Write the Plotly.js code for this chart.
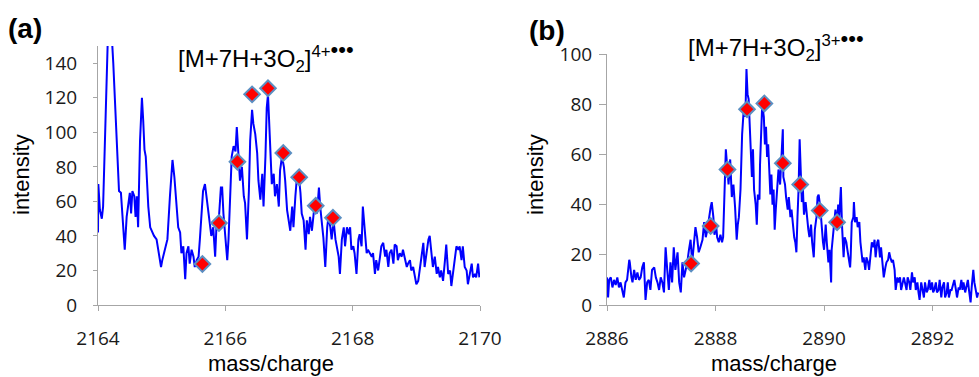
<!DOCTYPE html>
<html>
<head>
<meta charset="utf-8">
<script src="https://cdn.plot.ly/plotly-3.0.1.min.js"></script>
<style>html,body{margin:0;padding:0;background:#fff;}#chart{width:979px;height:377px;}</style>
</head>
<body>
<div id="chart"></div>
<script>
// ---- Panel (a): [M+7H+3O2]4+ ----
const leftMz = [2164.00,2164.005,2164.03,2164.06,2164.08,2164.11,2164.14,2164.16,2164.19,2164.21,2164.24,2164.26,2164.28,2164.31,2164.33,2164.36,2164.38,2164.42,2164.45,2164.48,2164.50,2164.52,2164.54,2164.57,2164.59,2164.61,2164.63,2164.66,2164.69,2164.71,2164.73,2164.75,2164.77,2164.79,2164.82,2164.85,2164.88,2164.92,2164.95,2164.99,2165.01,2165.04,2165.07,2165.09,2165.13,2165.16,2165.17,2165.20,2165.22,2165.24,2165.26,2165.29,2165.31,2165.34,2165.37,2165.39,2165.42,2165.44,2165.47,2165.50,2165.52,2165.55,2165.58,2165.60,2165.63,2165.65,2165.68,2165.71,2165.73,2165.76,2165.78,2165.81,2165.84,2165.86,2165.90,2165.93,
2165.95,2165.97,2166.00,2166.03,2166.05,2166.08,2166.10,2166.13,2166.16,2166.18,2166.21,2166.23,2166.26,2166.29,2166.31,2166.34,2166.37,2166.39,2166.42,2166.44,2166.47,2166.50,2166.52,2166.55,2166.58,2166.60,2166.63,2166.65,2166.67,2166.69,2166.71,2166.73,2166.76,2166.78,2166.81,2166.84,2166.86,2166.89,2166.92,2166.94,2166.97,2166.99,2167.02,2167.05,2167.07,2167.10,2167.12,2167.15,2167.18,2167.20,2167.23,2167.26,2167.28,2167.31,2167.33,2167.36,2167.39,2167.41,2167.44,2167.47,2167.49,2167.52,2167.54,2167.57,2167.60,2167.62,2167.65,2167.67,2167.70,2167.73,2167.75,2167.78,2167.80,2167.83,2167.86,2167.88,2167.91,2167.94,2167.96,
2167.98,2168.01,2168.03,2168.06,2168.09,2168.11,2168.14,2168.16,2168.18,2168.20,2168.22,2168.24,2168.27,2168.30,2168.32,2168.35,2168.37,2168.40,2168.43,2168.45,2168.48,2168.51,2168.53,2168.56,2168.58,2168.61,2168.64,2168.66,2168.69,2168.71,2168.74,2168.77,2168.79,2168.82,2168.85,2168.87,2168.90,2168.92,2168.95,2168.98,2169.00,2169.03,2169.05,2169.08,2169.11,2169.13,2169.16,2169.19,2169.21,2169.24,2169.26,2169.29,2169.32,2169.34,2169.37,2169.39,2169.42,2169.45,2169.47,2169.50,2169.53,2169.55,2169.58,2169.60,2169.63,2169.66,2169.68,2169.71,2169.73,2169.76,2169.79,2169.81,2169.84,2169.87,2169.89,2169.92,2169.94,2169.97,2169.99];
const leftIntensity = [42,70,55,50,57,92,140,162,168,160,140,124,105,80,66,65,53,32,51,59,65,53,66,63,51,63,45,95,120,107,90,86,68,57,45,42,40,38,32,22,26,30,34,38,63,80,84,74,63,53,45,42,30,34,15,30,34,24,32,28,22,26,28,38,53,66,70,61,53,47,40,45,28,45,51,68,
68,53,41,26,38,72,86,92,89,103,86,72,80,63,59,38,66,95,113,105,99,88,72,61,76,57,86,114,122,105,80,70,76,63,70,57,78,86,80,72,55,49,43,57,45,63,72,76,65,53,49,32,49,41,51,43,57,61,53,68,57,45,39,22,45,51,45,38,49,38,34,28,18,38,45,34,45,41,45,
32,34,30,18,38,41,34,57,49,38,30,32,30,28,30,18,26,20,28,34,36,28,32,22,30,32,24,35,34,26,30,28,32,26,22,24,26,20,22,16,12,14,20,26,36,22,30,38,40,30,22,28,18,22,16,20,14,26,35,18,20,11,20,26,34,32,34,26,34,22,20,12,18,24,16,18,16,24,16];
const leftMarkerMz = [2165.64,2165.90,2166.19,2166.42,2166.67,2166.91,2167.16,2167.42,2167.69];
const leftMarkerIntensity = [23.7,47.5,83,122,125.5,88,74,57.5,50.5];
const leftXTicks = [2164,2166,2168,2170];
const leftYTicks = [0,20,40,60,80,100,120,140];

// ---- Panel (b): [M+7H+3O2]3+ ----
const rightMz = [2886.00,2886.02,2886.04,2886.07,2886.10,2886.13,2886.16,2886.19,2886.22,2886.25,2886.28,2886.31,2886.34,2886.37,2886.41,2886.42,2886.45,2886.47,2886.50,2886.53,2886.56,2886.59,2886.62,2886.65,2886.68,2886.71,2886.74,2886.77,2886.80,2886.83,2886.87,2886.90,2886.93,2886.96,2886.99,2887.02,2887.05,2887.08,2887.11,2887.14,2887.17,2887.20,2887.23,2887.26,2887.30,2887.33,2887.36,2887.39,2887.42,2887.45,2887.48,2887.51,2887.54,2887.57,2887.60,2887.63,2887.66,2887.69,2887.72,2887.76,2887.79,2887.82,2887.85,2887.88,2887.91,2887.93,2887.96,2887.98,2888.01,2888.03,2888.06,2888.09,2888.12,2888.14,2888.17,2888.19,
2888.24,2888.27,2888.30,2888.33,2888.36,2888.39,2888.41,2888.43,2888.46,2888.49,2888.52,2888.55,2888.57,2888.59,2888.61,2888.63,2888.65,2888.67,2888.69,2888.71,2888.74,2888.76,2888.78,2888.81,2888.82,2888.84,2888.86,2888.89,2888.91,2888.93,2888.95,2888.97,2888.99,2889.01,2889.03,2889.05,2889.07,2889.09,2889.11,2889.13,2889.16,2889.19,2889.21,2889.24,2889.25,2889.28,2889.30,2889.33,2889.35,2889.38,2889.40,2889.43,2889.45,2889.47,2889.49,2889.51,2889.53,2889.55,2889.57,2889.59,2889.61,2889.63,2889.66,2889.68,2889.71,2889.73,2889.76,2889.78,2889.81,2889.83,2889.86,2889.88,2889.90,2889.93,2889.95,2889.98,2890.00,2890.03,2890.05,2890.08,2890.10,2890.13,2890.14,2890.16,2890.19,2890.21,2890.24,2890.26,2890.28,2890.31,2890.33,2890.36,2890.38,2890.41,2890.43,2890.46,2890.48,
2890.49,2890.51,2890.54,2890.55,2890.57,2890.60,2890.62,2890.65,2890.67,2890.69,2890.71,2890.73,2890.76,2890.78,2890.81,2890.83,2890.86,2890.88,2890.91,2890.93,2890.95,2890.98,2891.00,2891.03,2891.05,2891.08,2891.10,2891.13,2891.15,2891.18,2891.20,2891.22,2891.25,2891.27,2891.30,2891.32,2891.35,2891.37,2891.40,2891.42,2891.45,2891.47,2891.49,2891.52,2891.54,2891.57,2891.59,2891.62,2891.64,2891.67,2891.69,2891.72,2891.74,2891.76,2891.79,2891.81,2891.84,2891.86,2891.89,2891.91,2891.94,2891.96,2891.99,2892.01,2892.03,2892.06,2892.08,2892.11,2892.13,2892.16,2892.18,2892.21,2892.23,2892.26,2892.28,2892.30,2892.33,2892.35,2892.38,2892.40,2892.43,2892.45,2892.48,2892.50,2892.53,2892.55,2892.57,2892.60,2892.62,2892.65,2892.67,2892.70,2892.72,2892.75,2892.77,2892.80,2892.82,2892.84];
const rightIntensity = [11,3,10,11,7,10,8,11,7,9,6,3,9,10,18,17,11,9,14,10,13,10,11,15,17,2,9,10,6,14,15,11,9,6,11,9,5,23,14,6,17,9,23,14,21,9,5,17,11,14,17,22,26,17,23,31,27,21,23,26,33,27,30,35,39,41,35,28,32,27,25,28,25,27,49,62,
48,58,43,48,39,26,32,35,46,68,78,75,94,84,82,70,58,51,62,46,40,32,44,42,56,67,80,75,64,71,59,64,55,44,52,40,46,30,38,46,54,48,58,70,51,48,43,38,43,35,38,31,27,25,21,35,46,66,48,41,46,36,41,35,30,27,32,25,19,30,35,43,44,39,32,25,22,32,25,17,22,9,22,27,32,38,32,40,35,47,32,19,27,25,22,17,15,
19,33,35,41,33,35,31,33,25,21,17,19,14,19,17,14,22,25,23,26,19,25,26,19,23,17,11,15,17,18,21,19,17,18,14,6,11,9,11,6,10,11,9,6,11,9,6,13,9,11,6,9,5,2,9,6,3,9,5,6,10,6,9,5,6,9,5,6,10,3,7,9,3,5,9,3,6,6,9,10,6,3,7,6,10,6,9,5,7,10,6,1,7,14,9,6,3,5];
const rightMarkerMz = [2887.55,2887.91,2888.22,2888.58,2888.90,2889.24,2889.56,2889.92,2890.24];
const rightMarkerIntensity = [16.5,31.5,54,78,80.3,56.5,48,37.6,33];
const rightXTicks = [2886,2888,2890,2892];
const rightYTicks = [0,20,40,60,80,100];

const lineStyle = {color: '#0000ff', width: 2};
const markerStyle = {symbol: 'diamond', size: 12, color: '#ff0000', line: {color: '#5b8fc2', width: 2}};

const traces = [
  {x: leftMz, y: leftIntensity, type: 'scatter', mode: 'lines', line: lineStyle, xaxis: 'x', yaxis: 'y', hoverinfo: 'skip'},
  {x: leftMarkerMz, y: leftMarkerIntensity, type: 'scatter', mode: 'markers', marker: markerStyle, xaxis: 'x', yaxis: 'y', cliponaxis: false},
  {x: rightMz, y: rightIntensity, type: 'scatter', mode: 'lines', line: lineStyle, xaxis: 'x2', yaxis: 'y2', hoverinfo: 'skip'},
  {x: rightMarkerMz, y: rightMarkerIntensity, type: 'scatter', mode: 'markers', marker: markerStyle, xaxis: 'x2', yaxis: 'y2', cliponaxis: false}
];

const W = 979, H = 377;
const px = v => v / W;
const py = v => 1 - v / H;

const tickFont = {family: 'Open Sans, Lato, sans-serif', size: 19, color: '#1a1a1a'};
const axisCommon = {
  showgrid: false, zeroline: false, showline: true, linecolor: '#a6a6a6', linewidth: 1,
  ticks: 'outside', tickcolor: '#a6a6a6', tickwidth: 1, tickfont: tickFont, fixedrange: true
};

const titleFont = {family: 'Liberation Sans, Arial, sans-serif', size: 24, color: '#000'};
const labelFont = {family: 'Liberation Sans, Arial, sans-serif', size: 22, color: '#000'};
const panelFont = {family: 'Liberation Sans, Arial, sans-serif', size: 28, color: '#000', weight: 'bold'};

const dots = '<span style="font-size:22px">•••</span>';

const layout = {
  width: W, height: H,
  margin: {l: 0, r: 0, t: 0, b: 0},
  paper_bgcolor: '#ffffff', plot_bgcolor: '#ffffff',
  showlegend: false,
  xaxis: Object.assign({}, axisCommon, {domain: [px(98), px(480)], range: [2164, 2170], tickvals: leftXTicks, ticktext: leftXTicks.map(String), ticklen: 5, ticklabelstandoff: 11, anchor: 'y'}),
  yaxis: Object.assign({}, axisCommon, {domain: [py(305), py(46)], range: [0, 150], tickvals: leftYTicks, ticktext: leftYTicks.map(String), ticklen: 4, ticklabelstandoff: 12, anchor: 'x'}),
  xaxis2: Object.assign({}, axisCommon, {domain: [px(607), 1], range: [2886, 2892.855], tickvals: rightXTicks, ticktext: rightXTicks.map(String), ticklen: 5, ticklabelstandoff: 11, anchor: 'y2'}),
  yaxis2: Object.assign({}, axisCommon, {domain: [py(305), py(54)], range: [0, 100], tickvals: rightYTicks, ticktext: rightYTicks.map(String), ticklen: 7, ticklabelstandoff: 3, anchor: 'x2'}),
  annotations: [
    {text: '<b>(a)</b>', xref: 'paper', yref: 'paper', x: px(6), y: py(28), xanchor: 'left', yanchor: 'middle', showarrow: false, font: panelFont},
    {text: '<b>(b)</b>', xref: 'paper', yref: 'paper', x: px(527), y: py(30), xanchor: 'left', yanchor: 'middle', showarrow: false, font: panelFont},
    {text: '[M+7H+3O<sub>2</sub>]<sup>4+' + dots + '</sup>', xref: 'paper', yref: 'paper', x: px(176), y: py(56), xanchor: 'left', yanchor: 'middle', showarrow: false, font: titleFont},
    {text: '[M+7H+3O<sub>2</sub>]<sup>3+' + dots + '</sup>', xref: 'paper', yref: 'paper', x: px(686), y: py(45), xanchor: 'left', yanchor: 'middle', showarrow: false, font: titleFont},
    {text: 'intensity', xref: 'paper', yref: 'paper', x: px(21), y: py(175), xanchor: 'center', yanchor: 'middle', textangle: -90, showarrow: false, font: labelFont},
    {text: 'intensity', xref: 'paper', yref: 'paper', x: px(535), y: py(175), xanchor: 'center', yanchor: 'middle', textangle: -90, showarrow: false, font: labelFont},
    {text: 'mass/charge', xref: 'paper', yref: 'paper', x: px(271), y: py(363), xanchor: 'center', yanchor: 'middle', showarrow: false, font: labelFont},
    {text: 'mass/charge', xref: 'paper', yref: 'paper', x: px(774), y: py(363), xanchor: 'center', yanchor: 'middle', showarrow: false, font: labelFont}
  ]
};

Plotly.newPlot('chart', traces, layout, {staticPlot: true, displayModeBar: false});
</script>
</body>
</html>
